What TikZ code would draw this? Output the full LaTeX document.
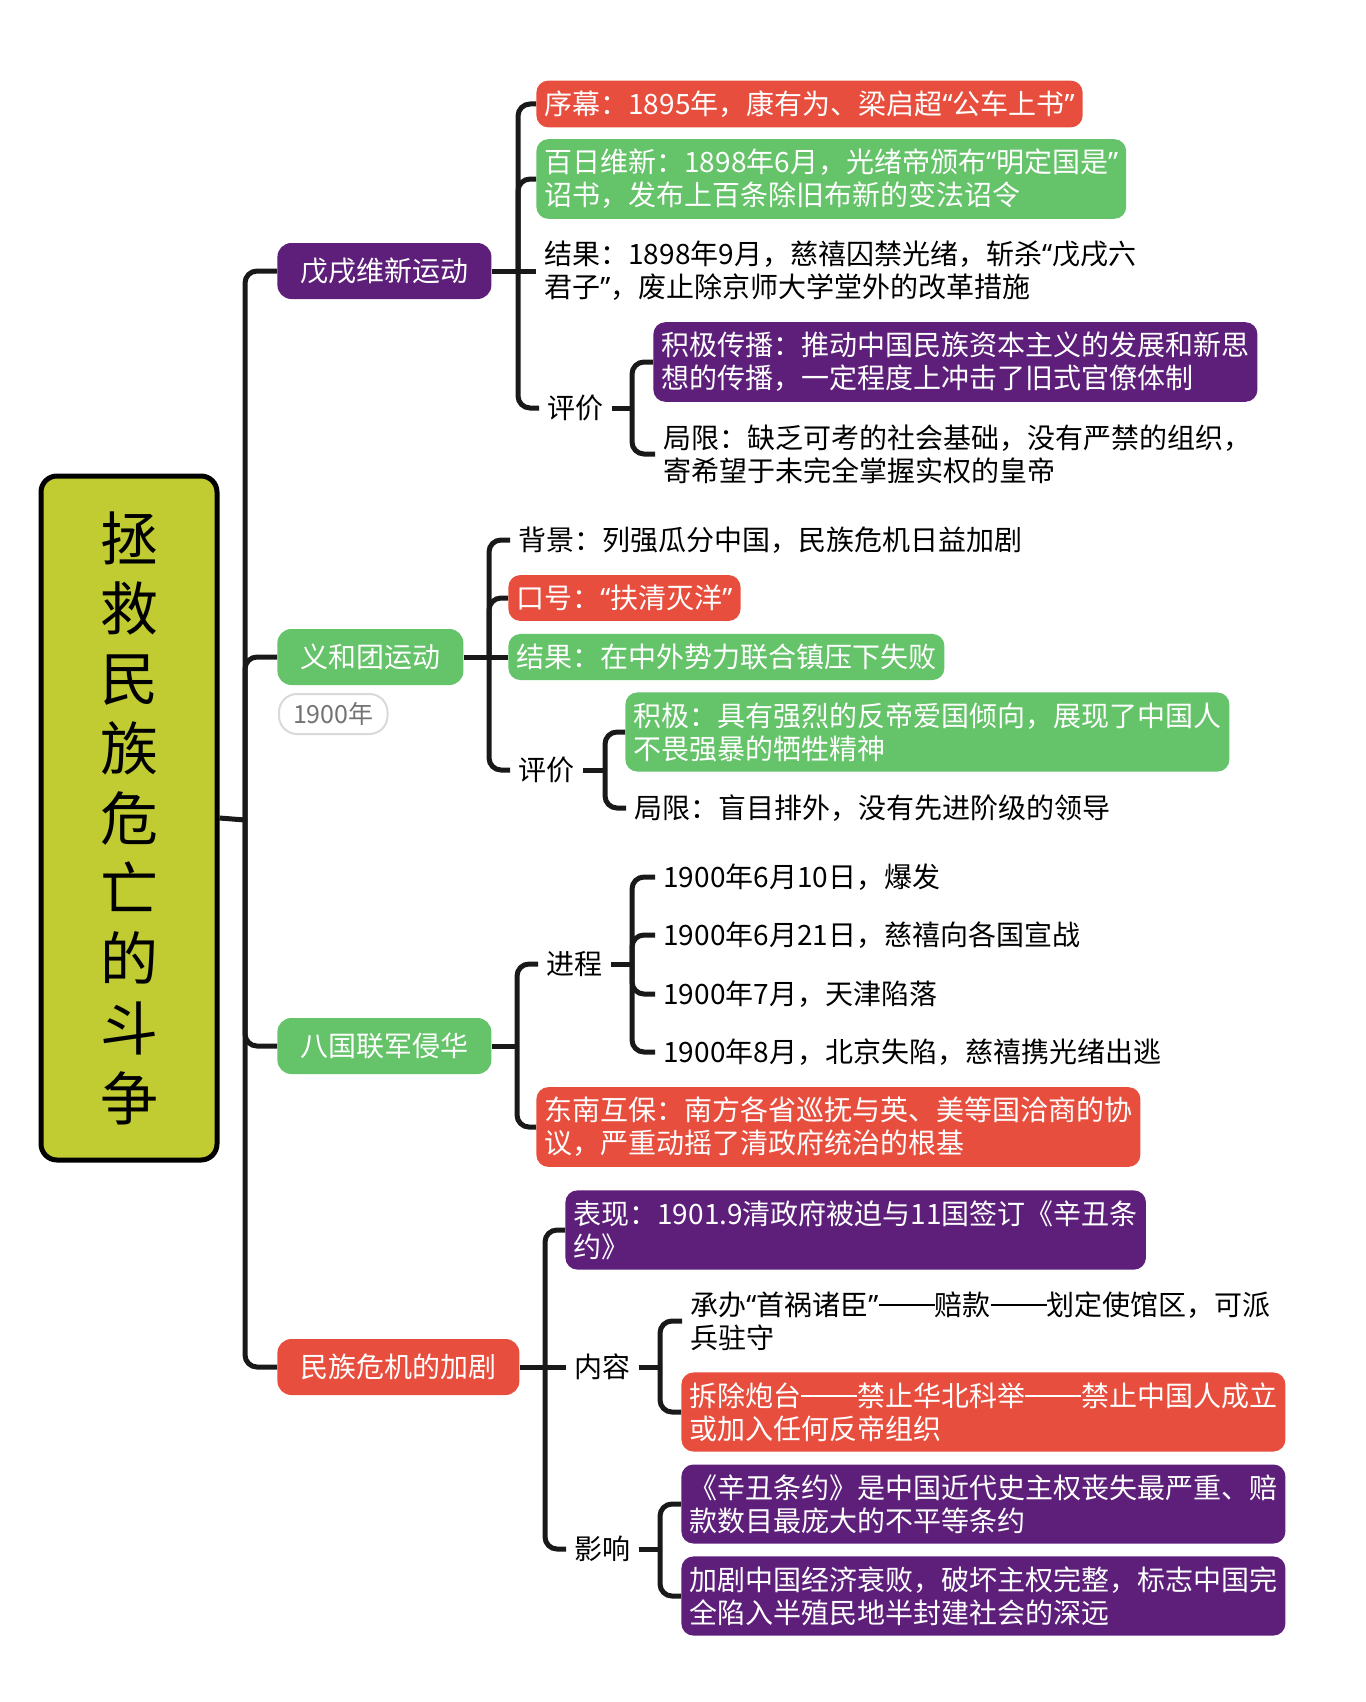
\documentclass[tikz,border=0pt]{standalone}
\usepackage{fontspec}
\setmainfont{Noto Sans CJK SC}
\newfontfamily\latinq{Noto Sans}
\usetikzlibrary{positioning}

\definecolor{mapred}{RGB}{232,78,62}
\definecolor{mapgreen}{RGB}{101,195,105}
\definecolor{mappurple}{RGB}{93,31,122}
\definecolor{mapolive}{RGB}{193,203,50}

\newcommand\openq{{\latinq “}}
\newcommand\closeq{{\latinq ”}}
\newcommand\longdash{\rule[0.33em]{2em}{0.06em}}

\tikzset{
  link/.style={line width=2.5pt, rounded corners=6pt, black!90},
  topic/.style={anchor=west, rounded corners=7pt, text=white, inner xsep=11.5pt, minimum height=28pt, font=\fontsize{14}{16.5}\selectfont},
  leaf/.style={anchor=west, align=left, inner xsep=4pt, inner ysep=5pt, font=\fontsize{14}{16.5}\selectfont},
  tagbox/.style={leaf, rounded corners=6pt, fill=#1, text=white},
}

\begin{document}
\begin{tikzpicture}[x=0.5pt,y=-0.5pt]
    \useasboundingbox (0,0) rectangle (1365,1702);
    % title
    \node[draw, line width=2.5pt, fill=mapolive, rounded corners=8pt, minimum width=88pt, minimum height=342pt, align=center, font=\fontsize{29}{35}\selectfont] (title) at (129,818) {拯\\救\\民\\族\\危\\亡\\的\\斗\\争};
    \coordinate (j0) at (245,820);

    % main topics
    \node[topic, fill=mappurple] (wuxu) at (277,271) {戊戌维新运动};
    \node[topic, fill=mapgreen] (yihe) at (277,657) {义和团运动};
    \node[anchor=west, draw=black!15, line width=1pt, rounded corners=9pt, text=black!55, minimum height=20pt, inner xsep=7pt, font=\fontsize{12.5}{14}\selectfont] (yihe-tag) at (278,714) {1900年};
    \node[topic, fill=mapgreen] (baguo) at (277,1046) {八国联军侵华};
    \node[topic, fill=mapred] (weiji) at (277,1367) {民族危机的加剧};

    % wuxu
    \coordinate (j1) at (518,271);
    \node[tagbox=mapred] (wuxu-a) at (536,104) {序幕：1895年，康有为、梁启超\openq 公车上书\closeq};
    \node[tagbox=mapgreen] (wuxu-b) at (536,179) {百日维新：1898年6月，光绪帝颁布\openq 明定国是\closeq\\诏书，发布上百条除旧布新的变法诏令};
    \node[leaf] (wuxu-c) at (536,271) {结果：1898年9月，慈禧囚禁光绪，斩杀\openq 戊戌六\\君子\closeq，废止除京师大学堂外的改革措施};
    \node[leaf] (wuxu-d) at (539,408) {评价};
    \coordinate (j1d) at (632,408);
    \node[tagbox=mappurple] (wuxu-d1) at (653,362) {积极传播：推动中国民族资本主义的发展和新思\\想的传播，一定程度上冲击了旧式官僚体制};
    \node[leaf] (wuxu-d2) at (655,454) {局限：缺乏可考的社会基础，没有严禁的组织，\\寄希望于未完全掌握实权的皇帝};

    % yihe
    \coordinate (j2) at (489,657);
    \node[leaf] (yihe-a) at (510,540) {背景：列强瓜分中国，民族危机日益加剧};
    \node[tagbox=mapred] (yihe-b) at (508,598) {口号：\openq 扶清灭洋\closeq};
    \node[tagbox=mapgreen] (yihe-c) at (508,657) {结果：在中外势力联合镇压下失败};
    \node[leaf] (yihe-d) at (510,770) {评价};
    \coordinate (j2d) at (605,770);
    \node[tagbox=mapgreen] (yihe-d1) at (625,732) {积极：具有强烈的反帝爱国倾向，展现了中国人\\不畏强暴的牺牲精神};
    \node[leaf] (yihe-d2) at (626,808) {局限：盲目排外，没有先进阶级的领导};

    % baguo
    \coordinate (j3) at (517,1046);
    \node[leaf] (baguo-a) at (538,964) {进程};
    \coordinate (j3a) at (632,964);
    \node[leaf] (baguo-a1) at (655,877) {1900年6月10日，爆发};
    \node[leaf] (baguo-a2) at (655,935) {1900年6月21日，慈禧向各国宣战};
    \node[leaf] (baguo-a3) at (655,994) {1900年7月，天津陷落};
    \node[leaf] (baguo-a4) at (655,1052) {1900年8月，北京失陷，慈禧携光绪出逃};
    \node[tagbox=mapred] (baguo-b) at (536,1127) {东南互保：南方各省巡抚与英、美等国洽商的协\\议，严重动摇了清政府统治的根基};

    % weiji
    \coordinate (j4) at (545,1367);
    \node[tagbox=mappurple] (weiji-a) at (565,1230) {表现：1901.9清政府被迫与11国签订《辛丑条\\约》};
    \node[leaf] (weiji-b) at (566,1367) {内容};
    \coordinate (j4b) at (660,1367);
    \node[leaf] (weiji-b1) at (682,1321) {承办\openq 首祸诸臣\closeq\longdash 赔款\longdash 划定使馆区，可派\\兵驻守};
    \node[tagbox=mapred] (weiji-b2) at (681,1412) {拆除炮台\longdash 禁止华北科举\longdash 禁止中国人成立\\或加入任何反帝组织};
    \node[leaf] (weiji-c) at (566,1549) {影响};
    \coordinate (j4c) at (660,1549);
    \node[tagbox=mappurple] (weiji-c1) at (681,1504) {《辛丑条约》是中国近代史主权丧失最严重、赔\\款数目最庞大的不平等条约};
    \node[tagbox=mappurple] (weiji-c2) at (681,1596) {加剧中国经济衰败，破坏主权完整，标志中国完\\全陷入半殖民地半封建社会的深远};

    % trunk
    \draw[link] (title.east) -- (j0);
    \foreach \n in {wuxu,yihe,baguo,weiji}
        \draw[link] (j0) |- (\n.west);

    % branches
    \draw[link] (wuxu.east) -- (wuxu-c.west);
    \foreach \n in {wuxu-a,wuxu-b,wuxu-d}
        \draw[link] (j1) |- (\n.west);
    \draw[link] (wuxu-d.east) -- (j1d);
    \foreach \n in {wuxu-d1,wuxu-d2}
        \draw[link] (j1d) |- (\n.west);

    \draw[link] (yihe.east) -- (yihe-c.west);
    \foreach \n in {yihe-a,yihe-b,yihe-d}
        \draw[link] (j2) |- (\n.west);
    \draw[link] (yihe-d.east) -- (j2d);
    \foreach \n in {yihe-d1,yihe-d2}
        \draw[link] (j2d) |- (\n.west);

    \draw[link] (baguo.east) -- (j3);
    \foreach \n in {baguo-a,baguo-b}
        \draw[link] (j3) |- (\n.west);
    \draw[link] (baguo-a.east) -- (j3a);
    \foreach \n in {baguo-a1,baguo-a2,baguo-a3,baguo-a4}
        \draw[link] (j3a) |- (\n.west);

    \draw[link] (weiji.east) -- (weiji-b.west);
    \foreach \n in {weiji-a,weiji-c}
        \draw[link] (j4) |- (\n.west);
    \draw[link] (weiji-b.east) -- (j4b);
    \foreach \n in {weiji-b1,weiji-b2}
        \draw[link] (j4b) |- (\n.west);
    \draw[link] (weiji-c.east) -- (j4c);
    \foreach \n in {weiji-c1,weiji-c2}
        \draw[link] (j4c) |- (\n.west);
\end{tikzpicture}
\end{document}
